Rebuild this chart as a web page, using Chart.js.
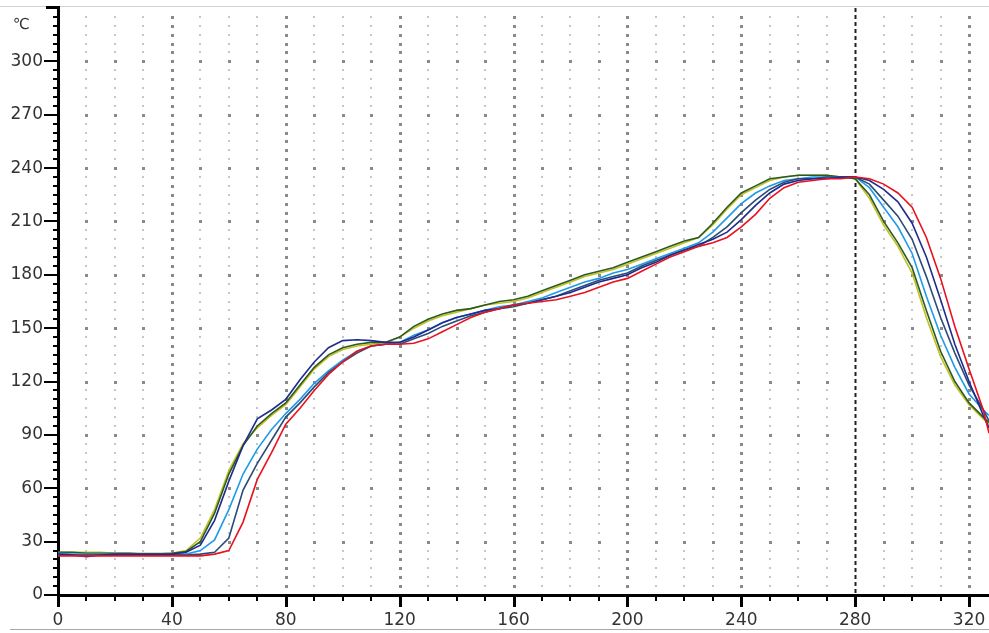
<!DOCTYPE html>
<html>
<head>
<meta charset="utf-8">
<script src="https://cdn.jsdelivr.net/npm/chart.js@4.4.1/dist/chart.umd.min.js"></script>
<style>
  body { margin: 0; background: #fff; }
  #grafica { display: block; }
</style>
</head>
<body>
<canvas id="grafica" width="989" height="633"></canvas>
<script>
// tiempos en segundos (eje X)
const tiempos = [0,5,10,15,20,25,30,35,40,45,50,55,60,65,70,75,80,85,90,95,100,105,110,115,120,125,130,135,140,145,150,155,160,165,170,175,180,185,190,195,200,205,210,215,220,225,230,235,240,245,250,255,260,265,270,275,280,285,290,295,300,305,310,315,320,325,327];

// temperaturas de cada sonda (°C)
const amarillo = [24,24,24,24,23.5,23.5,23.5,23.5,23.5,
    25,32,48,70,85,94,101,107,117,127,134,138,
    140,141,142,145,150,154,157,159,161,163,164,165,
    167,170,173,176,179,181,183,186,189,192,195,198,
    201,208,217,225,229,233,235,236,236,236,235,234,
    223,208,196,181,156,134,118,107,99,96];
const verde = [24,24,23.5,23.5,23.5,23.5,23,23,23.5,
    24.5,30,46,68,84,95,102,108,118,128,135,139,
    141,142,142,145,151,155,158,160,161,163,165,166,
    168,171,174,177,180,182,184,187,190,193,196,199,
    201,209,218,226,230,234,235,236,236,236,235,234,
    225,210,198,184,160,137,120,108,100,97];
const azulMarino = [23,22.5,21.5,22.5,23,23,23,23,23,
    24,28,42,64,84,99,104,110,121,131,139,143,
    143.5,143,142,142,145,149,153,156,158,160,161,163,
    164,166,168,170,173,176,178,180,184,187,191,194,
    197,200,204,211,219,226,231,233,234,234,235,235,
    233,228,221,209,190,166,141,120,101,94];
const celeste = [23.5,23,23,23,23,23,23,23,23,
    23,25,31,48,68,82,93,102,110,119,126,132,
    137,140,141,142,146,149,153,156,158,160,162,163,
    165,167,170,173,176,178,181,183,186,189,192,195,
    198,204,212,220,226,230,233,234,235,235,235,235,
    229,218,207,192,168,146,128,113,104,101];
const azulGris = [22.5,22.5,22.5,22.5,22.5,22.5,22.5,22.5,22.5,
    22.5,23,24,32,59,74,87,100,108,117,125,131,
    136,140,141,141,144,147,151,154,157,159,161,162,
    164,166,168,171,174,177,179,181,185,188,191,194,
    196,201,207,215,222,228,232,234,234,235,235,235,
    231,222,213,200,179,156,136,118,104,98];
const rojo = [22,22,22,22,22,22,22,22,22,
    22,22,23,25,41,65,80,96,105,115,124,131,
    137,140,141,141,141.5,144,148,152,156,159,161,163,
    164,165,166,168,170,173,176,178,182,186,190,193,
    196,198,201,207,214,223,229,232,233,234,234,235,
    234,231,226,218,201,178,151,127,104,91];

// etiquetas de los ejes
const etiquetasX = [0,40,80,120,160,200,240,280,320];
const etiquetasY = [0,30,60,90,120,150,180,210,240,270,300];
const cursorX = 280;

function puntos(serie) {
    return tiempos.map((t, i) => ({ x: t, y: serie[i] }));
}

function linea(datos, color) {
    return {
        data: puntos(datos),
        borderColor: color,
        borderWidth: 1.6,
        pointRadius: 0,
        tension: 0,
        fill: false
    };
}

// rejilla de puntos, marcas de los ejes y cursor
const rejilla = {
    id: 'rejilla',
    beforeDatasetsDraw(chart) {
        const { ctx, chartArea, scales: { x, y } } = chart;
        ctx.save();
        for (let t = 10; t <= 320; t += 10) {
            if (t === cursorX) continue;
            const px = Math.round(x.getPixelForValue(t));
            const mayor = etiquetasX.includes(t);
            for (let v = 5; v < 330; v += 5) {
                const py = Math.round(y.getPixelForValue(v));
                if (mayor || etiquetasY.includes(v)) {
                    ctx.fillStyle = '#8a8a8a';
                    ctx.fillRect(px - 1, py - 1, 3, 3);
                } else {
                    ctx.fillStyle = '#c6c6c6';
                    ctx.fillRect(px - 1, py - 1, 2, 2);
                }
            }
        }
        // linea del cursor
        const cx = Math.round(x.getPixelForValue(cursorX)) + 0.5;
        ctx.strokeStyle = '#222';
        ctx.lineWidth = 2;
        ctx.setLineDash([4, 3]);
        ctx.beginPath();
        ctx.moveTo(cx, chartArea.top);
        ctx.lineTo(cx, chartArea.bottom + 14);
        ctx.stroke();
        ctx.restore();
    },
    afterDraw(chart) {
        const { ctx, chartArea, scales: { x, y } } = chart;
        ctx.save();
        ctx.fillStyle = '#000';
        const ejeX = chartArea.left;
        for (let v = 0; v <= 330; v += 5) {
            const py = Math.round(y.getPixelForValue(v));
            const largo = etiquetasY.includes(v) ? 14 : 5;
            ctx.fillRect(ejeX - largo, py - 1, largo, 2);
        }
        for (let t = 0; t <= 320; t += 10) {
            const px = Math.round(x.getPixelForValue(t));
            if (etiquetasX.includes(t)) ctx.fillRect(px - 1, chartArea.bottom, 3, 12);
            else ctx.fillRect(px - 1, chartArea.bottom, 2, 6);
        }
        // bordes grises de la ventana
        ctx.fillStyle = '#d2d2d2';
        ctx.fillRect(0, 6, chart.width, 1);
        ctx.fillStyle = '#a8a8a8';
        ctx.fillRect(10, 629, chart.width - 10, 1);
        ctx.fillStyle = '#000';
        ctx.fillRect(ejeX - 12, 6, 14, 3);
        // unidad
        ctx.fillStyle = '#333';
        ctx.font = '15px "DejaVu Sans"';
        ctx.textBaseline = 'middle';
        ctx.fillText('℃', 13, 25);
        ctx.restore();
    }
};

document.addEventListener("DOMContentLoaded", function() {
    const ctx = document.getElementById('grafica').getContext('2d');
    const fuente = { family: 'DejaVu Sans', size: 17 };

    new Chart(ctx, {
        type: 'line',
        data: {
            datasets: [
                linea(rojo, '#e8121e'),
                linea(azulMarino, '#1f2c8c'),
                linea(azulGris, '#2b4c78'),
                linea(celeste, '#1e9be8'),
                linea(verde, '#2b5a26'),
                linea(amarillo, '#c2c21e')
            ]
        },
        options: {
            responsive: false,
            devicePixelRatio: 1,
            animation: false,
            layout: { padding: { top: 8, left: 0, right: 0, bottom: 0 } },
            plugins: {
                legend: { display: false },
                tooltip: { enabled: false }
            },
            scales: {
                x: {
                    type: 'linear',
                    min: 0,
                    max: 327,
                    grid: { display: false, drawTicks: true, tickLength: 12 },
                    border: { display: true, color: '#000', width: 3 },
                    ticks: {
                        stepSize: 10,
                        autoSkip: false,
                        includeBounds: false,
                        maxRotation: 0,
                        padding: 3,
                        color: '#333',
                        font: fuente,
                        callback: v => etiquetasX.includes(v) ? String(v) : ''
                    },
                    afterFit: function(scale) {
                        scale.height = 38;
                        scale.paddingLeft = 0;
                        scale.paddingRight = 0;
                    }
                },
                y: {
                    min: 0,
                    max: 330,
                    grid: { display: false, drawTicks: true, tickLength: 14 },
                    border: { display: true, color: '#000', width: 3 },
                    ticks: {
                        stepSize: 5,
                        autoSkip: false,
                        padding: 1,
                        color: '#333',
                        font: fuente,
                        callback: v => etiquetasY.includes(v) ? String(v) : ''
                    },
                    afterFit: function(scale) {
                        scale.width = 58;
                        scale.paddingTop = 0;
                        scale.paddingBottom = 0;
                    }
                }
            }
        },
        plugins: [rejilla]
    });
});
</script>
</body>
</html>
